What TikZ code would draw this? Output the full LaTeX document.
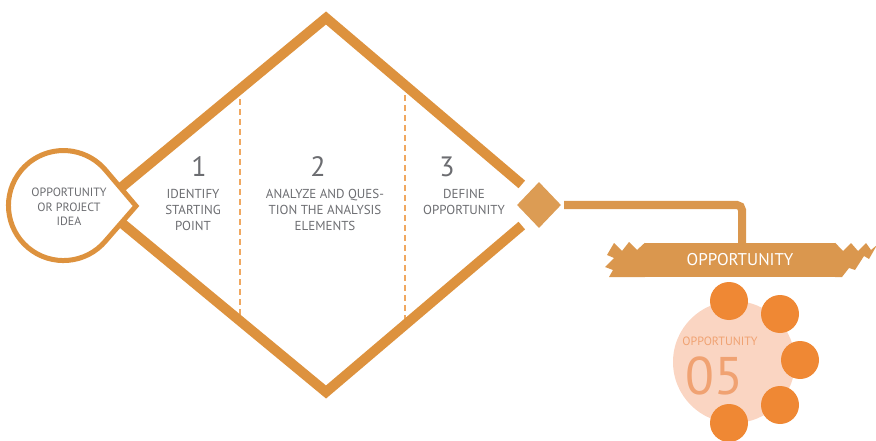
\documentclass[tikz,border=0pt]{standalone}
\usepackage{fontspec}
\setmainfont{PT Sans}
\usepackage{xcolor}
\usepackage{tikz}
\usetikzlibrary{positioning,shapes.geometric,calc}

\definecolor{rimorange}{RGB}{221,146,62}
\definecolor{gemorange}{RGB}{220,156,84}
\definecolor{bannerorange}{RGB}{218,151,78}
\definecolor{dashorange}{RGB}{240,168,96}
\definecolor{dotorange}{RGB}{239,136,52}
\definecolor{palepeach}{RGB}{250,213,194}
\definecolor{peachtext}{RGB}{240,162,114}
\definecolor{labelgrey}{RGB}{108,109,113}

\begin{document}
\begin{tikzpicture}[
  x=1pt, y=-1pt,
  rim/.style={draw=rimorange, line width=10pt, line join=miter},
  divider/.style={draw=dashorange, line width=2pt, dash pattern=on 6pt off 4pt},
  tear/.style={draw=rimorange, fill=white, line width=5pt},
  gem/.style={diamond, fill=gemorange, inner sep=0pt, minimum width=44pt, minimum height=46pt},
  link/.style={draw=bannerorange, line width=8pt, rounded corners=5pt},
  banner/.style={rectangle, fill=bannerorange, text=white, inner sep=0pt, minimum width=190pt, minimum height=34pt, font=\fontsize{17}{19}\selectfont},
  num/.style={text=labelgrey, inner sep=0pt, font=\fontsize{28}{30}\selectfont},
  stagetext/.style={text=labelgrey, inner sep=0pt, align=center, font=\fontsize{13}{16}\selectfont},
  ideatext/.style={text=labelgrey, inner sep=0pt, align=center, font=\fontsize{12}{14.5}\selectfont},
  halo/.style={circle, fill=palepeach, inner sep=0pt, minimum size=122pt},
  dot/.style={circle, fill=dotorange, inner sep=0pt, minimum size=38pt}
]
\useasboundingbox (0,0) rectangle (876,441);

% big diamond
\coordinate (L) at (100,205);
\coordinate (T) at (326,18);
\coordinate (R) at (546,205);
\coordinate (B) at (326,392);

\draw[divider] ($(L)!0.619!(T)$) -- ($(L)!0.619!(B)$);
\draw[divider] ($(R)!0.641!(T)$) -- ($(R)!0.641!(B)$);

\draw[rim] ($(T)!0.89!(R)$) -- (T) -- (L) -- (B) -- ($(B)!0.89!(R)$);

% start: teardrop
\coordinate (tip) at (136,206);
\draw[tear] (tip) -- (105.6,240.9) arc[start angle=40, end angle=320, radius=55] -- cycle;
\node[ideatext] (idea) at (69,207) {OPPORTUNITY\\OR PROJECT\\IDEA};

% stages
\node[num] (n1) at (199,167) {1};
\node[stagetext, below=12pt of n1.south, anchor=north, xshift=-6pt] (s1) {IDENTIFY\\STARTING\\POINT};
\node[num] (n2) at (318,167) {2};
\node[stagetext, below=12pt of n2.south, anchor=north, xshift=7pt] (s2) {ANALYZE AND QUES-\\TION THE ANALYSIS\\ELEMENTS};
\node[num] (n3) at (447,167) {3};
\node[stagetext, below=12pt of n3.south, anchor=north, xshift=17pt] (s3) {DEFINE\\OPPORTUNITY};

% end point and banner
\node[gem] (end) at (539,205) {};
\node[banner] (flag) at (740,260) {OPPORTUNITY};
\fill[bannerorange] (flag.north west) -- (637,250) -- (629,242) -- (622,251) -- (614,243)
  -- (607,255) -- (614,258) -- (605,267) -- (613,270) -- (609,277) -- (flag.south west) -- cycle;
\fill[bannerorange] (flag.north east) -- (843,251) -- (851,243) -- (858,251) -- (866,243)
  -- (871,250) -- (877,245) -- (869,259) -- (864,256) -- (855,270) -- (849,268) -- (842,277) -- (flag.south east) -- cycle;
\draw[link, shorten <=3pt] (end.east) -| ([xshift=2pt]flag.north);

% result
\node[halo] (pool) at (734,362) {};
\node[text=peachtext, inner sep=0pt, font=\fontsize{12}{14}\selectfont] (oplabel) at (720,341) {OPPORTUNITY};
\node[text=peachtext, inner sep=0pt, font=\fontsize{53}{56}\selectfont] (opnum) at (714,376) {05};
\foreach \px/\py [count=\i] in {729/301, 780/314, 800/360, 780/405, 729/423}
  \node[dot] (dot\i) at (\px,\py) {};

\end{tikzpicture}
\end{document}
